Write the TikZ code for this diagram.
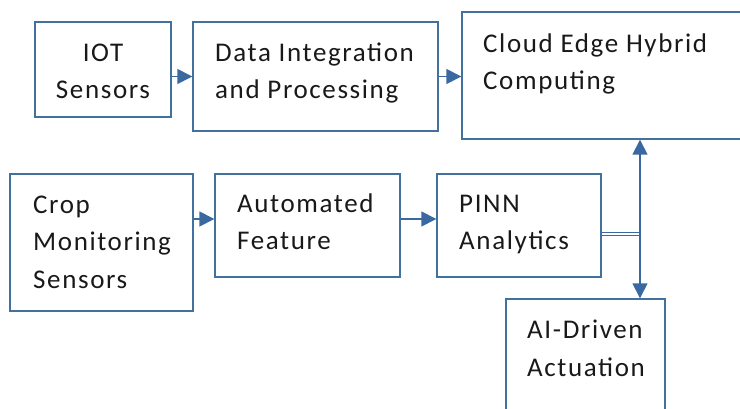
\documentclass[tikz,border=0pt]{standalone}
\usepackage{fontspec}
\setmainfont[LetterSpace=6]{Carlito}
\usetikzlibrary{arrows.meta}
\definecolor{boxblue}{RGB}{65,113,156}
\definecolor{linkblue}{RGB}{58,104,160}

\begin{document}
\begin{tikzpicture}[x=1pt,y=-1pt,
  box/.style={draw=boxblue, line width=1.4pt, rectangle, inner sep=0pt},
  lbl/.style={font=\fontsize{27}{37.5}\selectfont, align=left, anchor=base west, inner sep=0pt, text=black!90},
  arrow/.style={draw=linkblue, line width=1.5pt, -{Triangle[length=15pt,width=15pt]}}]
\useasboundingbox (0,0) rectangle (740,409);
\clip (0,0) rectangle (740,409);

% top row
\node[box, minimum width=136pt, minimum height=95pt] (iot) at (103,69.5) {};
\node[box, minimum width=245pt, minimum height=109pt] (integ) at (315.5,76.5) {};
\node[box, minimum width=318pt, minimum height=127pt] (cloud) at (621,75.5) {};
% (base anchor sits on the last line)
\node[lbl, align=center, anchor=base] (iottxt) at (103,99) {IOT\\Sensors};
\node[lbl] (integtxt) at (215,99) {Data Integration\\and Processing};
\node[lbl] (cloudtxt) at (483,90) {Cloud Edge Hybrid\\Computing};

% bottom row
\node[box, minimum width=183pt, minimum height=137pt] (crop) at (101.5,242.5) {};
\node[box, minimum width=185pt, minimum height=103pt] (feat) at (307.5,225.5) {};
\node[box, minimum width=164pt, minimum height=103pt] (pinn) at (519,225.5) {};
\node[box, minimum width=159pt, minimum height=141pt] (act) at (585.5,369.5) {};
\node[lbl] (croptxt) at (33,288) {Crop\\Monitoring\\Sensors};
\node[lbl] (feattxt) at (237,250) {Automated\\Feature};
\node[lbl] (pinntxt) at (459,250) {PINN\\Analytics};
\node[lbl] (acttxt) at (527,376) {AI-Driven\\Actuation};

% links
\draw[arrow] (iot.east |- integ.west) -- (integ.west);
\draw[arrow] (integ.east) -- (cloud.west |- integ.east);
\draw[arrow] ([yshift=6.5pt]crop.east |- feat.west) -- ([yshift=6.5pt]feat.west);
\draw[arrow] ([yshift=6.5pt]feat.east) -- ([yshift=6.5pt]pinn.west);

\coordinate (split) at (640,234);
\draw[draw=linkblue, double=white, double distance=2pt, line width=1.2pt] ([yshift=-8.5pt]pinn.east) -- (split);
\draw[arrow] (split) -- (cloud.south -| split);
\draw[arrow] (split) -- (act.north -| split);
\end{tikzpicture}
\end{document}
